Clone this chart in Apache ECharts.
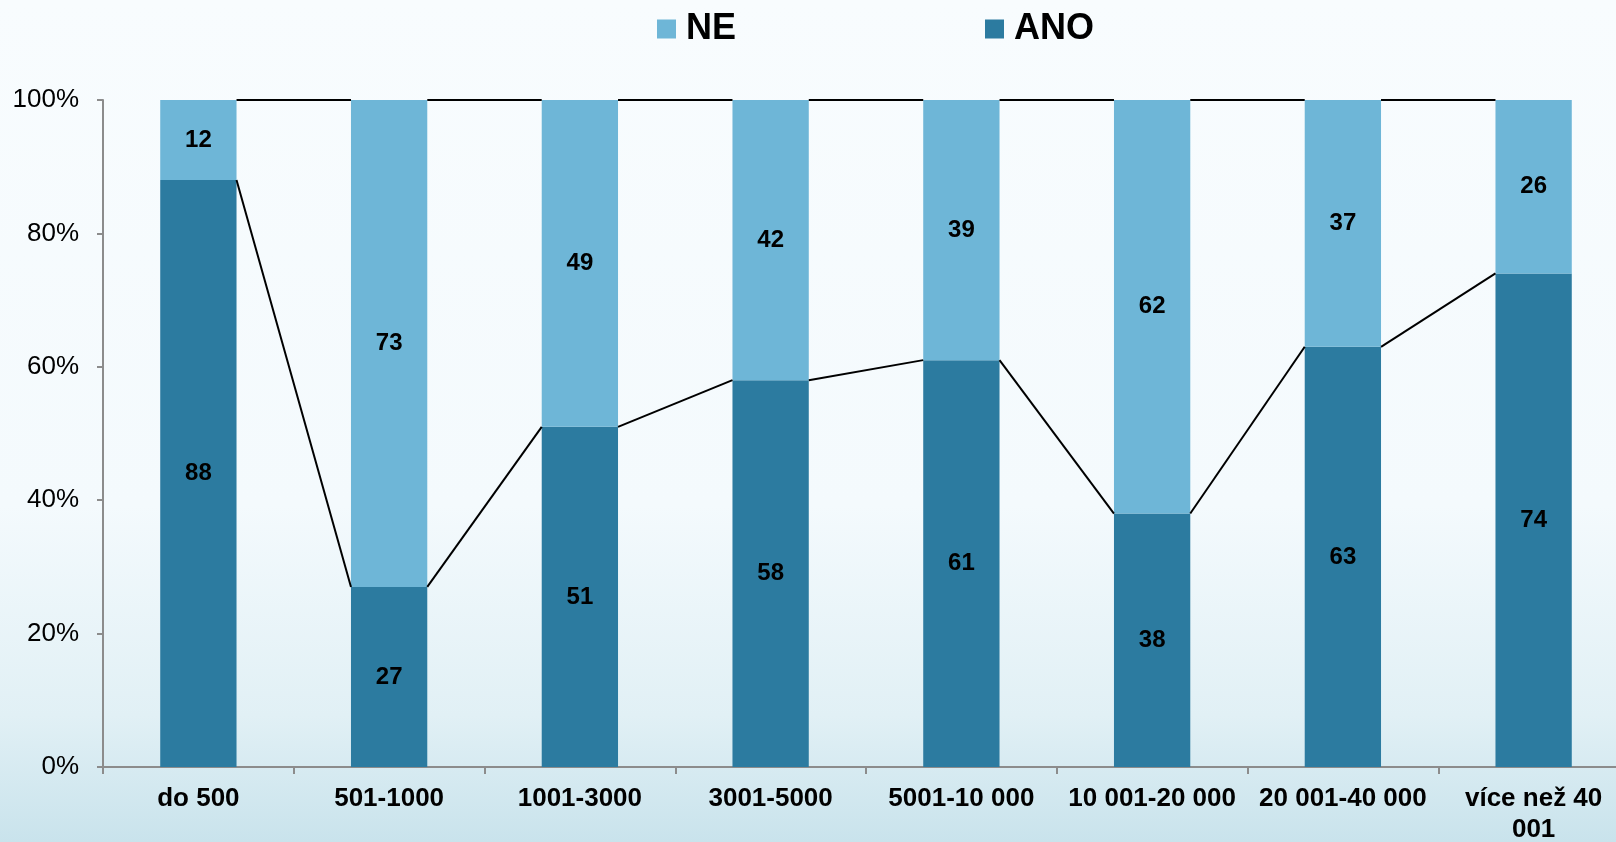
<!DOCTYPE html>
<html>
<head>
<meta charset="utf-8">
<script src="https://cdn.jsdelivr.net/npm/echarts@6/dist/echarts.min.js"></script>
<style>
  html, body { margin: 0; padding: 0; }
  #chart { width: 1616px; height: 842px; }
</style>
</head>
<body>
<div id="chart"></div>
<script>
const categories = ['do 500', '501-1000', '1001-3000', '3001-5000', '5001-10 000', '10 001-20 000', '20 001-40 000', 'více než 40\n001']
const ano = [88, 27, 51, 58, 61, 38, 63, 74]
const ne = [12, 73, 49, 42, 39, 62, 37, 26]
const yTicks = [0, 20, 40, 60, 80, 100]

const chart = echarts.init(document.getElementById('chart'))

const labelStyle = {
  show: true,
  position: 'inside',
  color: '#000',
  fontFamily: 'Liberation Sans, Arial, sans-serif',
  fontWeight: 'bold',
  fontSize: 24,
}

// Excel-like series lines between neighbouring stacks
const seriesLines = (params, api) => {
  const i = params.dataIndex
  const half = api.size([1, 0])[0] * 0.2
  const a0 = api.coord([i, ano[i]])
  const a1 = api.coord([i + 1, ano[i + 1]])
  const t0 = api.coord([i, ano[i] + ne[i]])
  const t1 = api.coord([i + 1, ano[i + 1] + ne[i + 1]])
  const style = { stroke: '#000', lineWidth: 2 }
  return {
    type: 'group',
    children: [
      { type: 'line', shape: { x1: a0[0] + half, y1: a0[1], x2: a1[0] - half, y2: a1[1] }, style },
      { type: 'line', shape: { x1: t0[0] + half, y1: t0[1], x2: t1[0] - half, y2: t1[1] }, style },
    ],
  }
}

const options = {
  backgroundColor: {
    type: 'linear', x: 0, y: 0, x2: 0, y2: 1,
    colorStops: [
      { offset: 0, color: '#F8FCFE' },
      { offset: 0.6, color: '#F4FAFD' },
      { offset: 0.85, color: '#E1F0F5' },
      { offset: 1, color: '#C9E3EC' },
    ],
  },
  textStyle: { fontFamily: 'Liberation Sans, Arial, sans-serif' },
  animation: false,
  legend: {
    data: ['NE', 'ANO'],
    left: 657,
    top: 11,
    padding: 0,
    icon: 'rect',
    itemWidth: 19,
    itemHeight: 19,
    itemGap: 249,
    textStyle: {
      fontSize: 36,
      fontWeight: 'bold',
      color: '#000',
      padding: [0, 0, 0, 5],
    },
  },
  grid: {
    left: 103,
    width: 1526,
    top: 100,
    height: 667,
    containLabel: false,
    outerBoundsMode: 'none',
  },
  xAxis: {
    type: 'category',
    data: categories,
    axisLine: { lineStyle: { color: '#8C8C8C', width: 2 } },
    axisTick: { show: true, length: 7, lineStyle: { color: '#8C8C8C', width: 2 } },
    axisLabel: {
      interval: 0,
      margin: 16,
      color: '#000',
      fontSize: 26,
      fontWeight: 'bold',
      lineHeight: 31,
    },
  },
  yAxis: {
    type: 'value',
    min: yTicks[0],
    max: yTicks[yTicks.length - 1],
    interval: 20,
    splitLine: { show: false },
    axisLine: { show: true, lineStyle: { color: '#8C8C8C', width: 2 } },
    axisTick: { show: true, length: 6, lineStyle: { color: '#8C8C8C', width: 2 } },
    axisLabel: {
      margin: 24,
      color: '#000',
      fontSize: 26,
      formatter: '{value}%',
    },
  },
  series: [
    {
      name: 'ANO',
      type: 'bar',
      stack: 'total',
      barWidth: '40%',
      data: ano,
      itemStyle: { color: '#2C7BA0' },
      label: labelStyle,
    },
    {
      name: 'NE',
      type: 'bar',
      stack: 'total',
      barWidth: '40%',
      data: ne,
      itemStyle: { color: '#6EB6D7' },
      label: labelStyle,
    },
    {
      type: 'custom',
      renderItem: seriesLines,
      clip: false,
      silent: true,
      data: ano.slice(0, -1).map((v, i) => [i, v]),
      encode: { x: 0, y: 1 },
      z: 3,
    },
  ],
}

chart.setOption(options)
</script>
</body>
</html>
